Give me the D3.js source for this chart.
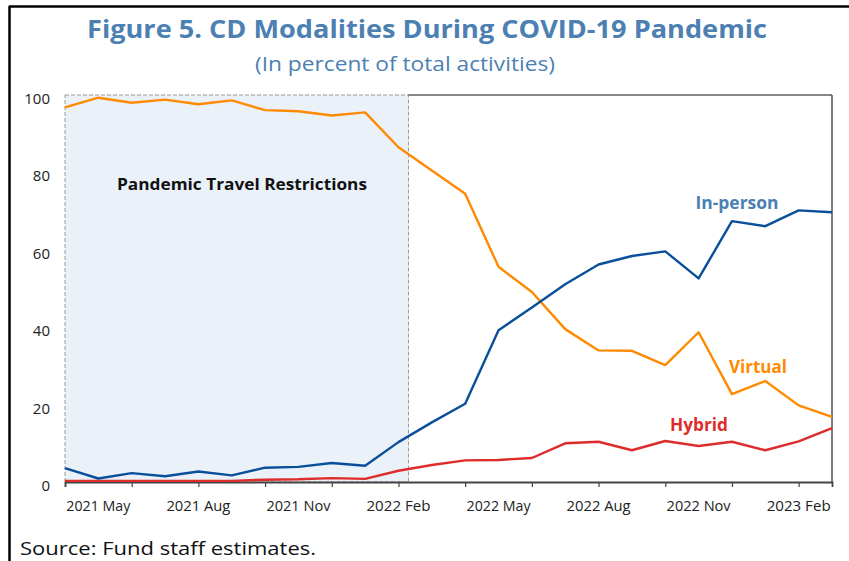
<!DOCTYPE html>
<html>
<head>
<meta charset="utf-8">
<script src="https://cdn.jsdelivr.net/npm/d3@7"></script>
<style>
  body { margin: 0; background: #fff; }
  text { font-family: "Open Sans", "Noto Sans", sans-serif; }
</style>
</head>
<body>
<script>
let width = 849, height = 561;
let margin = {"top": 95, "bottom": 79, "left": 65, "right": 17};

// monthly, 2021 Apr .. 2023 Mar
let months = ["2021 Apr","2021 May","2021 Jun","2021 Jul","2021 Aug","2021 Sep","2021 Oct","2021 Nov","2021 Dec",
  "2022 Jan","2022 Feb","2022 Mar","2022 Apr","2022 May","2022 Jun","2022 Jul","2022 Aug","2022 Sep","2022 Oct",
  "2022 Nov","2022 Dec","2023 Jan","2023 Feb","2023 Mar"];
let virtual = [96.8, 99.3, 98.0, 98.8, 97.6, 98.6, 96.1, 95.8, 94.7, 95.5, 86.5, 80.5, 74.5, 55.6, 49.1, 39.5, 34.0, 33.9, 30.2, 38.7, 22.7, 26.1, 19.8, 16.8];
let inPerson = [3.6, 0.9, 2.3, 1.5, 2.7, 1.7, 3.7, 3.9, 4.9, 4.2, 10.3, 15.4, 20.2, 39.2, 45.1, 51.1, 56.2, 58.4, 59.6, 52.6, 67.4, 66.1, 70.2, 69.7];
let hybrid = [0.3, 0.3, 0.3, 0.3, 0.3, 0.3, 0.6, 0.7, 1.0, 0.8, 2.9, 4.4, 5.6, 5.7, 6.2, 10.0, 10.4, 8.2, 10.6, 9.3, 10.4, 8.2, 10.5, 13.9];
let yTicks = [0, 20, 40, 60, 80, 100];
let tickMonths = months.filter((m, i) => i % 2 === 0);
let labelMonths = ["2021 May","2021 Aug","2021 Nov","2022 Feb","2022 May","2022 Aug","2022 Nov","2023 Feb"];
let shadeEnd = 10.3; // restrictions lifted shortly after 2022 Feb

let svg = d3.select("body").append("svg").attr("width", width).attr("height", height);

// frame
svg.append("line").attr("x1", 9).attr("x2", width).attr("y1", 6.5).attr("y2", 6.5).attr("stroke", "#000").attr("stroke-width", 2.5);
svg.append("line").attr("x1", 9.5).attr("x2", 9.5).attr("y1", 6).attr("y2", height).attr("stroke", "#000").attr("stroke-width", 2.5);

// titles
svg.append("text").attr("x", 427).attr("y", 38).attr("text-anchor", "middle")
  .attr("font-size", 25).attr("font-weight", 700).attr("fill", "#4C80B2")
  .attr("textLength", 680).attr("lengthAdjust", "spacingAndGlyphs")
  .text("Figure 5. CD Modalities During COVID-19 Pandemic");
svg.append("text").attr("x", 405).attr("y", 71).attr("text-anchor", "middle")
  .attr("font-size", 20).attr("fill", "#4C80B2")
  .attr("textLength", 300).attr("lengthAdjust", "spacingAndGlyphs")
  .text("(In percent of total activities)");
svg.append("text").attr("x", 20).attr("y", 555)
  .attr("font-size", 18).attr("fill", "#111")
  .attr("textLength", 296).attr("lengthAdjust", "spacingAndGlyphs")
  .text("Source: Fund staff estimates.");

let x = d3.scaleLinear().domain([0, months.length - 1]).range([margin.left, width - margin.right]);
let y = d3.scaleLinear().domain([0, 100]).range([height - margin.bottom, margin.top]);
let xi = m => x(months.indexOf(m));

let g = svg.append("g");

// shaded period
g.append("rect").attr("x", x(0)).attr("y", y(100))
  .attr("width", x(shadeEnd) - x(0)).attr("height", y(0) - y(100))
  .attr("fill", "#EAF1F9").attr("stroke", "#999").attr("stroke-dasharray", "4,2").attr("stroke-width", 1);

// plot border: top and right
g.append("line").attr("x1", x(shadeEnd)).attr("x2", x(months.length - 1)).attr("y1", y(100)).attr("y2", y(100))
  .attr("stroke", "#111").attr("stroke-width", 1.2);
g.append("line").attr("x1", x(months.length - 1)).attr("x2", x(months.length - 1)).attr("y1", y(100)).attr("y2", y(0))
  .attr("stroke", "#555").attr("stroke-width", 1.5);

g.append("text").attr("x", 242).attr("y", 190).attr("text-anchor", "middle")
  .attr("font-size", 16).attr("font-weight", 700).attr("fill", "#111")
  .attr("textLength", 250).attr("lengthAdjust", "spacingAndGlyphs")
  .text("Pandemic Travel Restrictions");

// y labels
g.selectAll(".ylab").data(yTicks).join("text").attr("class", "ylab")
  .attr("x", 50).attr("y", d => y(d) + 9).attr("text-anchor", "end")
  .attr("font-size", 15).attr("fill", "#222").text(d => d);

// x axis
let xAxis = d3.axisBottom(x).tickValues(tickMonths.map(m => months.indexOf(m)).concat([months.length - 1]))
  .tickSize(5).tickFormat("");
let ax = g.append("g").attr("transform", `translate(0,${y(0)})`).call(xAxis);
ax.select(".domain").attr("stroke", "#444").attr("stroke-width", 1.8);
ax.selectAll(".tick line").attr("stroke", "#444").attr("stroke-width", 1.2);
ax.selectAll(".tick").filter(d => d === months.length - 1).select("line").remove();

g.selectAll(".xlab").data(labelMonths).join("text").attr("class", "xlab")
  .attr("x", d => xi(d)).attr("y", 511).attr("text-anchor", "middle")
  .attr("font-size", 15).attr("fill", "#222")
  .attr("textLength", 64).attr("lengthAdjust", "spacingAndGlyphs")
  .text(d => d);

// lines
let line = d3.line().x((d, i) => x(i)).y(d => y(d));
let series = [
  {name: "Hybrid", values: hybrid, color: "#DE2C2C"},
  {name: "Virtual", values: virtual, color: "#FF8A00"},
  {name: "In-person", values: inPerson, color: "#0A4F9A"}
];
g.selectAll(".series").data(series).join("path").attr("class", "series")
  .attr("d", d => line(d.values)).attr("fill", "none")
  .attr("stroke", d => d.color).attr("stroke-width", 2.4).attr("stroke-linejoin", "round");

// series labels
let labels = [
  {text: "In-person", x: 737, y: 209, color: "#4C80B2", w: 83},
  {text: "Virtual", x: 758, y: 373, color: "#FF8A00", w: 58},
  {text: "Hybrid", x: 699, y: 431, color: "#DE2C2C", w: 58}
];
g.selectAll(".slab").data(labels).join("text").attr("class", "slab")
  .attr("x", d => d.x).attr("y", d => d.y).attr("text-anchor", "middle")
  .attr("font-size", 17).attr("font-weight", 700).attr("fill", d => d.color)
  .attr("textLength", d => d.w).attr("lengthAdjust", "spacingAndGlyphs")
  .text(d => d.text);
</script>
</body>
</html>
